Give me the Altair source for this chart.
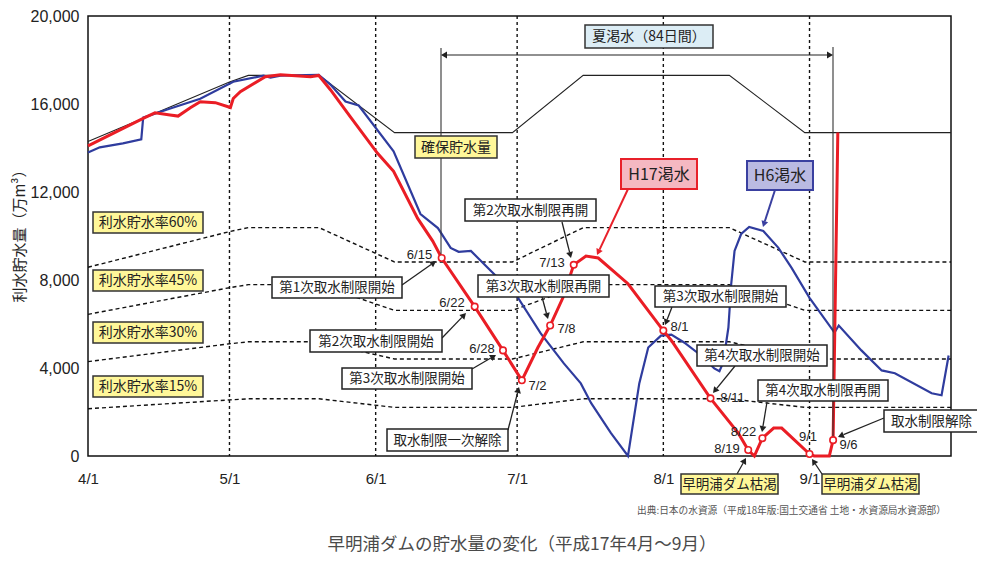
import math
import altair as alt
import pandas as pd

# ---------------- data ----------------
# x = days counted from 4/1  (4/1=0, 5/1=30, 6/1=61, 7/1=91, 8/1=122, 9/1=153, 10/1=183)
month_day = [0, 30, 61, 91, 122, 153]
month_label = ["4/1", "5/1", "6/1", "7/1", "8/1", "9/1"]
grid_day = [30, 61, 91, 122, 153]

curve_day = [0, 30, 34, 49, 65, 90, 105, 136, 152, 183]
secured_storage = [14300, 17000, 17300, 17300, 14700, 14700, 17300, 17300, 14700, 14700]
rate60 = [8580, 10200, 10380, 10380, 8820, 8820, 10380, 10380, 8820, 8820]
rate45 = [6440, 7650, 7790, 7790, 6620, 6620, 7790, 7790, 6620, 6620]
rate30 = [4290, 5100, 5190, 5190, 4410, 4410, 5190, 5190, 4410, 4410]
rate15 = [2150, 2550, 2600, 2600, 2210, 2210, 2600, 2600, 2210, 2210]

h17_day = [0, 11.7, 14.2, 17.4, 19.1, 21.7, 23.8, 27, 30.2, 30.8, 32.3, 37.6, 40.8, 47.2,
           48.9, 51.4, 55.6, 61.4, 64.8, 69.9, 73.1, 75, 82, 88, 92, 95.4, 98, 100.7, 103,
           105.6, 108.2, 114.5, 122, 123.7, 132, 137.9, 140, 141.3, 143, 145.4, 147.1, 153,
           154, 157.2, 158, 159]
h17_val = [14100, 15350, 15600, 15500, 15450, 15830, 16100, 16060, 15840, 16250, 16560, 17240,
           17330, 17240, 17300, 16650, 15430, 13760, 12940, 10800, 9770, 9000, 6790, 4800, 3440,
           4930, 5930, 7190, 8690, 9090, 9000, 7830, 5700, 5250, 2620, 1040, 270, 0, 810, 1270,
           1270, 90, 0, 0, 720, 14700]

h6_day = [0, 2.5, 7.4, 11.3, 11.7, 16.8, 23.8, 30.8, 37.2, 38.7, 40.8, 48.9, 51.4, 54.6, 57.4,
          64.8, 70.5, 74.2, 76.9, 78.6, 81.2, 85.4, 91.2, 96, 100.9, 104.5, 106.7, 110.9, 114.5,
          116.9, 118.8, 121.5, 123.7, 126.4, 130, 132.8, 133.9, 134.7, 135.8, 136.4, 137.1,
          138.5, 140.2, 143.2, 146.4, 149.2, 153, 158.3, 159.2, 164, 168.3, 171.1, 178.9, 181,
          182.5]
h6_val = [13800, 14030, 14210, 14390, 15380, 15750, 16240, 17010, 17290, 17200, 17290, 17330,
          16880, 16110, 15930, 13850, 11000, 10360, 9460, 9280, 9320, 8420, 7190, 5570, 4210,
          3300, 2400, 1040, 0, 3300, 4930, 5470, 5520, 5160, 4570, 3980, 3850, 4250, 5840, 7830,
          9320, 10090, 10410, 10230, 9460, 8550, 7190, 5610, 5930, 4800, 3890, 3760, 2850, 2760,
          4570]

event_day = [75, 82, 88, 92, 98, 103, 122, 132, 140, 143, 153, 158]
event_val = [9000, 6790, 4800, 3440, 5930, 8690, 5700, 2620, 270, 810, 90, 720]
event_label = ["6/15", "6/22", "6/28", "7/2", "7/8", "7/13", "8/1", "8/11", "8/19", "8/22",
               "9/1", "9/6"]

# ---------------- layout (page pixels measured on the reference) ----------------
W, H = 863, 440
XMAX, YMAX = 183, 20000
X0, Y0 = 88, 456

JP = "Noto Sans CJK JP"
NUM = "Liberation Sans"


def pd_(px):
    return (px - X0) / W * XMAX


def pv_(py):
    return (Y0 - py) / H * YMAX


YEL = "#fff799"
boxes = [
    ("夏渇水（84日間）", 585, 25, 713, 48, "#dcedf5", "#333333", 1.5, 14),
    ("確保貯水量", 415, 136, 497, 158, YEL, "#333333", 1.5, 14),
    ("利水貯水率60%", 93, 212, 203, 233, YEL, "#333333", 1.5, 14),
    ("利水貯水率45%", 93, 270, 203, 291, YEL, "#333333", 1.5, 14),
    ("利水貯水率30%", 93, 322, 203, 343, YEL, "#333333", 1.5, 14),
    ("利水貯水率15%", 93, 376, 203, 397, YEL, "#333333", 1.5, 14),
    ("H17渇水", 621, 159, 697, 189, "#f5b8c2", "#e8202a", 2, 16),
    ("H6渇水", 747, 161, 813, 190, "#babae2", "#3a40a0", 2, 16),
    ("第1次取水制限開始", 272, 277, 402, 298, "white", "#222222", 1.5, 13.5),
    ("第2次取水制限開始", 310, 330, 442, 352, "white", "#222222", 1.5, 13.5),
    ("第3次取水制限開始", 342, 368, 472, 389, "white", "#222222", 1.5, 13.5),
    ("取水制限一次解除", 387, 429, 508, 451, "white", "#222222", 1.5, 13.5),
    ("第2次取水制限再開", 465, 199, 596, 221, "white", "#222222", 1.5, 13.5),
    ("第3次取水制限再開", 478, 275, 609, 297, "white", "#222222", 1.5, 13.5),
    ("第3次取水制限開始", 655, 286, 786, 307, "white", "#222222", 1.5, 13.5),
    ("第4次取水制限開始", 697, 345, 827, 366, "white", "#222222", 1.5, 13.5),
    ("第4次取水制限再開", 758, 380, 888, 401, "white", "#222222", 1.5, 13.5),
    ("取水制限解除", 884, 410, 979, 432, "white", "#222222", 1.5, 13.5),
    ("早明浦ダム枯渇", 681, 474, 778, 494, YEL, "#333333", 1.5, 13.5),
    ("早明浦ダム枯渇", 822, 474, 919, 494, YEL, "#333333", 1.5, 13.5),
]

arrows = [
    (402, 285, 436, 261, "#222222", 1.3),
    (442, 338, 466, 313, "#222222", 1.3),
    (472, 369, 496, 355, "#222222", 1.3),
    (508, 430, 519, 387, "#222222", 1.3),
    (562, 222, 571, 258, "#222222", 1.3),
    (542, 297, 548, 319, "#222222", 1.3),
    (672, 307, 665, 325, "#222222", 1.3),
    (735, 366, 713, 393, "#222222", 1.3),
    (767, 402, 762, 432, "#222222", 1.3),
    (884, 418, 838, 437, "#222222", 1.3),
    (737, 474, 746, 458, "#222222", 1.3),
    (822, 474, 812, 459, "#222222", 1.3),
    (628, 189, 597, 255, "#e8202a", 2),
    (775, 190, 763, 227, "#3a40a0", 2),
    (637, 55, 441, 55, "#222222", 1.2),
    (637, 55, 833, 55, "#222222", 1.2),
]
plain_lines = [(441, 48, 441, 255), (833, 47, 833, 438)]

event_label_px = [(419.5, 255), (452, 303), (482, 349), (537.5, 386), (566.5, 329),
                  (552, 263), (679.5, 327), (732.5, 398), (727, 449), (743.5, 432),
                  (808, 437), (848.5, 445)]

# ---------------- frames ----------------
rate_df = pd.concat([
    pd.DataFrame({"day": curve_day, "v": vals, "g": name})
    for name, vals in [("60", rate60), ("45", rate45), ("30", rate30), ("15", rate15)]
])
sec_df = pd.DataFrame({"day": curve_day, "v": secured_storage})
h17_df = pd.DataFrame({"day": h17_day, "v": h17_val})
h6_df = pd.DataFrame({"day": h6_day, "v": h6_val})
ev_df = pd.DataFrame({"day": event_day, "v": event_val})
grid_df = pd.DataFrame({"day": grid_day})

box_df = pd.DataFrame([
    {"x": pd_(l), "x2": pd_(r), "y": pv_(t), "y2": pv_(b),
     "cx": pd_((l + r) / 2), "cy": pv_((t + b) / 2 + 0.5),
     "text": txt, "fill": fill, "stroke": st, "sw": sw, "fs": fs}
    for (txt, l, t, r, b, fill, st, sw, fs) in boxes
])

seg_rows, head_rows = [], []
for (x1, y1, x2, y2, col, w) in arrows:
    L = math.hypot(x2 - x1, y2 - y1)
    ux, uy = (x2 - x1) / L, (y2 - y1) / L
    ex, ey = x2 - ux * 6, y2 - uy * 6
    seg_rows.append({"x": pd_(x1), "y": pv_(y1), "x2": pd_(ex), "y2": pv_(ey), "c": col, "w": w})
    hx, hy = x2 - ux * 4, y2 - uy * 4
    ang = math.degrees(math.atan2(ux, -uy)) % 360
    head_rows.append({"x": pd_(hx), "y": pv_(hy), "a": ang, "c": col})
for (x1, y1, x2, y2) in plain_lines:
    seg_rows.append({"x": pd_(x1), "y": pv_(y1), "x2": pd_(x2), "y2": pv_(y2), "c": "#333333", "w": 1.1})
seg_df = pd.DataFrame(seg_rows)
head_df = pd.DataFrame(head_rows)

lab_df = pd.DataFrame({"x": [pd_(p[0]) for p in event_label_px],
                       "y": [pv_(p[1]) for p in event_label_px],
                       "text": event_label})

# ---------------- scales / axes ----------------
xs = alt.Scale(domain=[0, XMAX], nice=False, zero=False)
ys = alt.Scale(domain=[0, YMAX], nice=False, zero=False)
label_expr = " : ".join(f"datum.value == {d} ? '{l}'" for d, l in zip(month_day, month_label)) + " : ''"
xaxis = alt.Axis(values=month_day, labelExpr=label_expr, title=None, grid=False, domain=False,
                 ticks=False, labelPadding=15, labelFontSize=15, labelFlush=False,
                 labelFont="Liberation Sans Narrow, Liberation Sans", labelColor="#222222")
yaxis = alt.Axis(values=[0, 4000, 8000, 12000, 16000, 20000], format=",d", grid=False, domain=False,
                 ticks=False, labelPadding=9, labelFontSize=16, labelFont=NUM, labelColor="#222222",
                 labelFlush=False,
                 title="利水貯水量（万m³）", titleFont=JP, titleFontSize=15, titleFontWeight="normal",
                 titleColor="#222222", titleX=-69, titleY=216, titleBaseline="middle")


def X(f="day"):
    return alt.X(f"{f}:Q", scale=xs, axis=xaxis)


def Y(f="v"):
    return alt.Y(f"{f}:Q", scale=ys, axis=yaxis)


grid = alt.Chart(grid_df).mark_rule(color="#111111", strokeWidth=1.4, strokeDash=[3, 3]).encode(x=X())
rates = alt.Chart(rate_df).mark_line(color="#111111", strokeWidth=1.4, strokeDash=[4, 3]).encode(
    x=X(), y=Y(), detail="g:N")
sec = alt.Chart(sec_df).mark_line(color="#222222", strokeWidth=1.1).encode(x=X(), y=Y())
h6 = alt.Chart(h6_df).mark_line(color="#2f3c9e", strokeWidth=2.2).encode(x=X(), y=Y())
h17 = alt.Chart(h17_df).mark_line(color="#ea1d25", strokeWidth=3).encode(x=X(), y=Y())
pts = alt.Chart(ev_df).mark_point(shape="circle", filled=True, fill="white", stroke="#ea1d25",
                                  strokeWidth=1.6, size=42, opacity=1).encode(x=X(), y=Y())

segs = alt.Chart(seg_df).mark_rule().encode(
    x=X("x"), y=Y("y"), x2="x2:Q", y2="y2:Q",
    color=alt.Color("c:N", scale=None), strokeWidth=alt.StrokeWidth("w:Q", scale=None))
heads = alt.Chart(head_df).mark_point(shape="triangle", filled=True, size=48, opacity=1).encode(
    x=X("x"), y=Y("y"), angle=alt.Angle("a:Q", scale=None),
    color=alt.Color("c:N", scale=None))

rects = alt.Chart(box_df).mark_rect().encode(
    x=X("x"), x2="x2:Q", y=Y("y"), y2="y2:Q",
    fill=alt.Fill("fill:N", scale=None), stroke=alt.Stroke("stroke:N", scale=None),
    strokeWidth=alt.StrokeWidth("sw:Q", scale=None))
box_text = alt.Chart(box_df).mark_text(font=JP, color="#222222", baseline="middle", align="center").encode(
    x=X("cx"), y=Y("cy"), text="text:N", size=alt.Size("fs:Q", scale=None))

labels = alt.Chart(lab_df).mark_text(font=NUM, fontSize=13, color="#222222", baseline="middle",
                                     align="center").encode(x=X("x"), y=Y("y"), text="text:N")

source = alt.Chart(pd.DataFrame({"x": [pd_(946)], "y": [pv_(511)],
                                 "text": ["出典:日本の水資源（平成18年版:国土交通省 土地・水資源局水資源部）"]})
                   ).mark_text(font=JP, fontSize=9.7, color="#555555", align="right", baseline="middle").encode(
    x=X("x"), y=Y("y"), text="text:N")
title = alt.Chart(pd.DataFrame({"x": [pd_(522)], "y": [pv_(545)],
                                "text": ["早明浦ダムの貯水量の変化（平成17年4月〜9月）"]})
                  ).mark_text(font=JP, fontSize=17.5, color="#4a4a4a", align="center", baseline="middle").encode(
    x=X("x"), y=Y("y"), text="text:N")

chart = alt.layer(
    grid, rates, sec, h6, h17, segs, heads, pts, rects, box_text, labels, source, title
).properties(
    width=W, height=H,
    autosize=alt.AutoSizeParams(type="none"),
    padding={"left": 80, "top": 8, "right": 26, "bottom": 99},
    background="white",
).configure_view(stroke="#111111", strokeWidth=1.5)

chart.save("out.html", embed_options={"renderer": "svg", "actions": False})
